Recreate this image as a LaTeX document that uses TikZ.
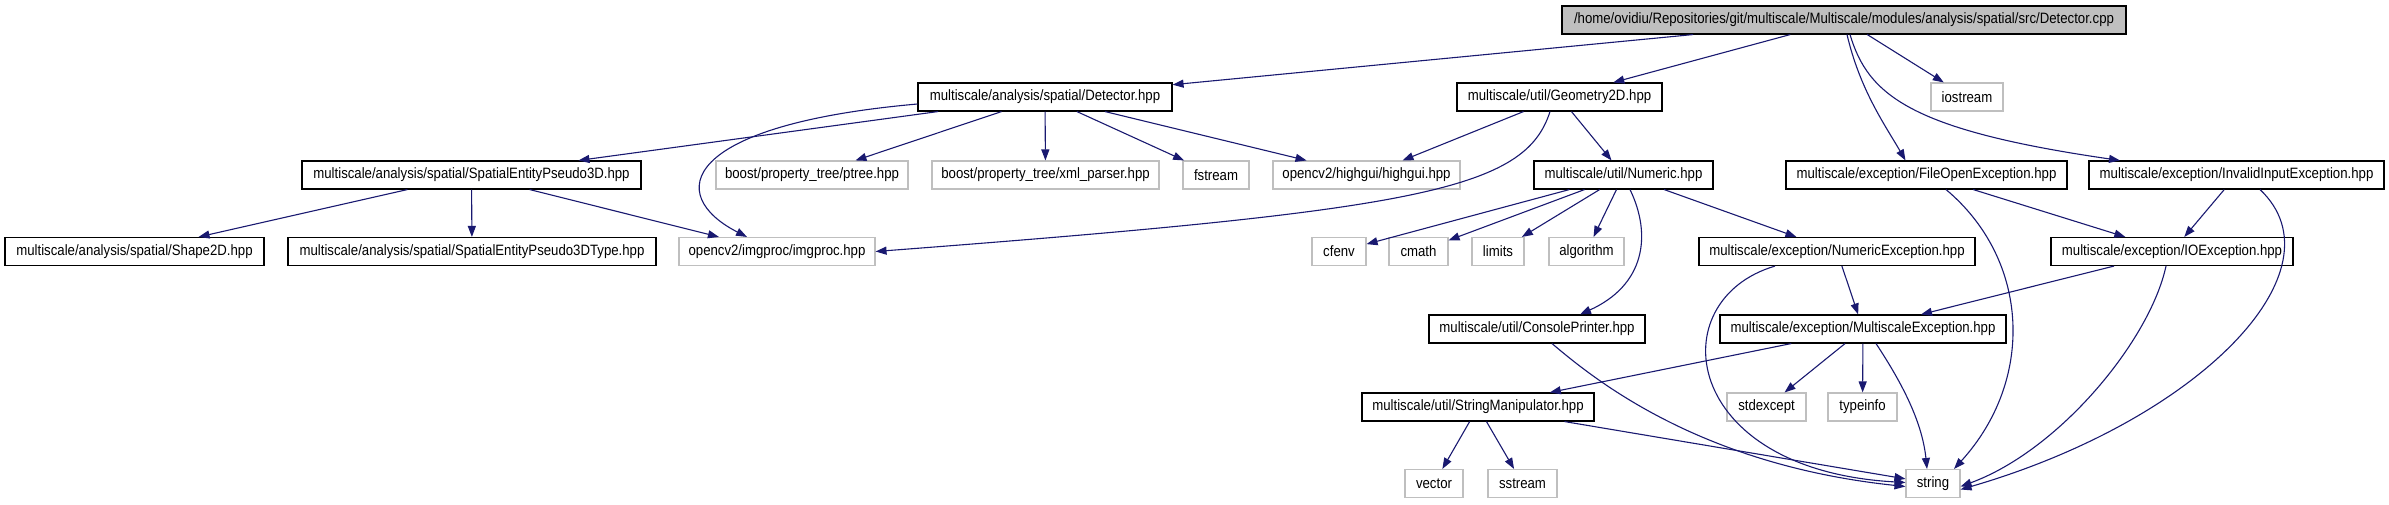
\documentclass[tikz,border=0pt]{standalone}
\usepackage{fontspec}
\setmainfont[FakeStretch=0.88]{Liberation Sans}
\usetikzlibrary{arrows.meta}
\definecolor{edgeblue}{RGB}{25,25,112}
\definecolor{lightframe}{RGB}{191,191,191}

\begin{document}
\begin{tikzpicture}[x=1pt, y=-1pt,
        incfile/.style={draw=black, line width=1.1pt, rectangle, minimum height=28pt, inner sep=0pt, font=\fontsize{15}{17}\selectfont},
        sysfile/.style={incfile, draw=lightframe},
        srcfile/.style={incfile, fill=lightframe},
        dep/.style={draw=edgeblue, line width=1.1pt, -{Triangle[length=11pt,width=8pt]}}]

            \useasboundingbox (0,0) rectangle (2389,504);

            % Define nodes
            \node[srcfile, minimum width=564] (root) at (1844,20) {/home/ovidiu/Repositories/git/multiscale/Multiscale/modules/analysis/spatial/src/Detector.cpp};

            \node[incfile, minimum width=254] (dethpp) at (1045,97) {multiscale/analysis/spatial/Detector.hpp};
            \node[incfile, minimum width=205] (geo) at (1559.5,97) {multiscale/util/Geometry2D.hpp};
            \node[sysfile, minimum width=72] (iostr) at (1967,97) {iostream};

            \node[incfile, minimum width=339] (se3d) at (471.5,175) {multiscale/analysis/spatial/SpatialEntityPseudo3D.hpp};
            \node[sysfile, minimum width=192] (ptree) at (812,175) {boost/property\_tree/ptree.hpp};
            \node[sysfile, minimum width=227] (xmlp) at (1045.5,175) {boost/property\_tree/xml\_parser.hpp};
            \node[sysfile, minimum width=66] (fstr) at (1216,175) {fstream};
            \node[sysfile, minimum width=187] (hgui) at (1366.5,175) {opencv2/highgui/highgui.hpp};
            \node[incfile, minimum width=179] (numeric) at (1623.5,175) {multiscale/util/Numeric.hpp};
            \node[incfile, minimum width=281] (fileopen) at (1926.5,175) {multiscale/exception/FileOpenException.hpp};
            \node[incfile, minimum width=295] (invinput) at (2236.5,175) {multiscale/exception/InvalidInputException.hpp};

            \node[incfile, minimum width=259] (shape) at (134.5,251.5) {multiscale/analysis/spatial/Shape2D.hpp};
            \node[incfile, minimum width=368] (se3dtype) at (472,251.5) {multiscale/analysis/spatial/SpatialEntityPseudo3DType.hpp};
            \node[sysfile, minimum width=196] (imgproc) at (777,251.5) {opencv2/imgproc/imgproc.hpp};
            \node[sysfile, minimum width=54] (cfenv) at (1339,251.5) {cfenv};
            \node[sysfile, minimum width=59] (cmath) at (1418.5,251.5) {cmath};
            \node[sysfile, minimum width=52] (limits) at (1498,251.5) {limits};
            \node[sysfile, minimum width=75] (algo) at (1586.5,251.5) {algorithm};
            \node[incfile, minimum width=276] (numexc) at (1837,251.5) {multiscale/exception/NumericException.hpp};
            \node[incfile, minimum width=242] (ioexc) at (2172,251.5) {multiscale/exception/IOException.hpp};

            \node[incfile, minimum width=216] (console) at (1537,329) {multiscale/util/ConsolePrinter.hpp};
            \node[incfile, minimum width=286] (mscexc) at (1863,329) {multiscale/exception/MultiscaleException.hpp};

            \node[incfile, minimum width=232] (strman) at (1478,407) {multiscale/util/StringManipulator.hpp};
            \node[sysfile, minimum width=79] (stdexc) at (1766.5,407) {stdexcept};
            \node[sysfile, minimum width=69] (typeinfo) at (1862.5,407) {typeinfo};

            \node[sysfile, minimum width=58] (vect) at (1434,483.5) {vector};
            \node[sysfile, minimum width=69] (sstr) at (1522.5,483.5) {sstream};
            \node[sysfile, minimum width=54] (str) at (1933,483.5) {string};

            % Draw edges
            \draw[dep] (root) -- (dethpp);
            \draw[dep] (root) -- (geo);
            \draw[dep] (root) -- (iostr);
            \draw[dep] ([xshift=3]root.south) .. controls (1860,90) and (1885,125) .. ([xshift=-21]fileopen.north);
            \draw[dep] ([xshift=6]root.south) .. controls (1868,95) and (1910,130) .. ([xshift=-116.5]invinput.north);

            \draw[dep] (dethpp) -- (se3d);
            \draw[dep] ([yshift=-7]dethpp.west) .. controls (680,125) and (665,195) .. ([xshift=-30]imgproc.north);
            \draw[dep] (dethpp) -- (ptree);
            \draw[dep] (dethpp) -- (xmlp);
            \draw[dep] (dethpp) -- (fstr);
            \draw[dep] (dethpp) -- (hgui);

            \draw[dep] (geo) -- (hgui);
            \draw[dep] ([xshift=-9.5]geo.south) .. controls (1525,190) and (1420,210) .. (imgproc.east);
            \draw[dep] (geo) -- (numeric);

            \draw[dep] (se3d) -- (shape);
            \draw[dep] (se3d) -- (se3dtype);
            \draw[dep] (se3d) -- (imgproc);

            \draw[dep] (numeric) -- (cfenv);
            \draw[dep] (numeric) -- (cmath);
            \draw[dep] (numeric) -- (limits);
            \draw[dep] (numeric) -- (algo);
            \draw[dep] ([xshift=6.5]numeric.south) .. controls (1652,235) and (1645,285) .. ([xshift=43]console.north);
            \draw[dep] (numeric) -- (numexc);

            \draw[dep] (fileopen) -- (ioexc);
            \draw[dep] ([xshift=19.5]fileopen.south) .. controls (2030,260) and (2035,380) .. ([xshift=21]str.north);
            \draw[dep] (invinput) -- (ioexc);
            \draw[dep] ([xshift=23.5]invinput.south) .. controls (2345,270) and (2200,420) .. ([yshift=-6]str.east);

            \draw[dep] (numexc) -- (mscexc);
            \draw[dep] ([xshift=-62]numexc.south) .. controls (1660,300) and (1680,470) .. ([yshift=1]str.west);
            \draw[dep] (ioexc) -- (mscexc);
            \draw[dep] ([xshift=-6]ioexc.south) .. controls (2150,340) and (2060,450) .. ([yshift=-3]str.east);

            \draw[dep] ([xshift=15]console.south) .. controls (1595,380) and (1700,465) .. ([yshift=-3]str.west);

            \draw[dep] (mscexc) -- (strman);
            \draw[dep] (mscexc) -- (stdexc);
            \draw[dep] (mscexc) -- (typeinfo);
            \draw[dep] ([xshift=13]mscexc.south) .. controls (1900,380) and (1922,420) .. ([xshift=-6]str.north);

            \draw[dep] (strman) -- (vect);
            \draw[dep] (strman) -- (sstr);
            \draw[dep] (strman) -- (str);

        \end{tikzpicture}
\end{document}
